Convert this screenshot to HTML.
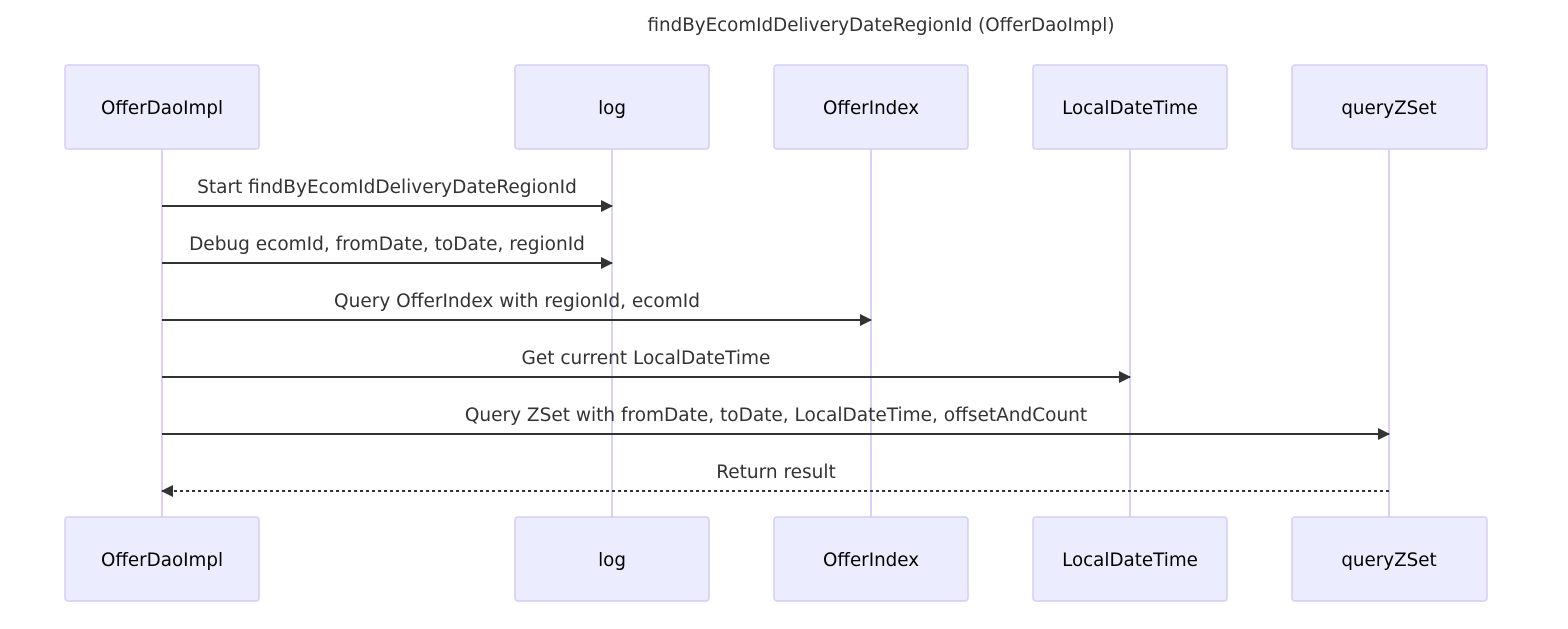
<!DOCTYPE html>
<html><head><meta charset="utf-8"><style>
html,body{margin:0;padding:0;background:#fff;}
svg text{font-family:"DejaVu Sans","Liberation Sans",sans-serif;fill:#333;}
</style></head><body>
<svg width="1568" height="624" viewBox="0 0 1568 624" xmlns="http://www.w3.org/2000/svg">
<defs>
<marker id="ah" markerWidth="12" markerHeight="12" refX="11" refY="6" orient="auto" markerUnits="userSpaceOnUse">
<path d="M0,0 L12,6 L0,12 z" fill="#333"/>
</marker>
</defs>
<text x="881" y="31" text-anchor="middle" font-size="18.3">findByEcomIdDeliveryDateRegionId (OfferDaoImpl)</text>
<g stroke="#DCD0F8" stroke-width="2">
<line x1="162" y1="149" x2="162" y2="517"/>
<line x1="612" y1="149" x2="612" y2="517"/>
<line x1="871" y1="149" x2="871" y2="517"/>
<line x1="1130" y1="149" x2="1130" y2="517"/>
<line x1="1389" y1="149" x2="1389" y2="517"/>
</g>
<g fill="#ECECFF" stroke="#D6CCF5" stroke-width="1.5">
<rect x="65" y="65" width="194" height="84" rx="3"/>
<rect x="515" y="65" width="194" height="84" rx="3"/>
<rect x="774" y="65" width="194" height="84" rx="3"/>
<rect x="1033" y="65" width="194" height="84" rx="3"/>
<rect x="1292" y="65" width="195" height="84" rx="3"/>
<rect x="65" y="517" width="194" height="84" rx="3"/>
<rect x="515" y="517" width="194" height="84" rx="3"/>
<rect x="774" y="517" width="194" height="84" rx="3"/>
<rect x="1033" y="517" width="194" height="84" rx="3"/>
<rect x="1292" y="517" width="195" height="84" rx="3"/>
</g>
<g font-size="18.3" text-anchor="middle">
<text x="162" y="114" style="fill:#000">OfferDaoImpl</text>
<text x="612" y="114" style="fill:#000">log</text>
<text x="871" y="114" style="fill:#000">OfferIndex</text>
<text x="1130" y="114" style="fill:#000">LocalDateTime</text>
<text x="1389" y="114" style="fill:#000">queryZSet</text>
<text x="162" y="566" style="fill:#000">OfferDaoImpl</text>
<text x="612" y="566" style="fill:#000">log</text>
<text x="871" y="566" style="fill:#000">OfferIndex</text>
<text x="1130" y="566" style="fill:#000">LocalDateTime</text>
<text x="1389" y="566" style="fill:#000">queryZSet</text>
</g>
<g stroke="#333" stroke-width="2">
<line x1="162" y1="206" x2="612" y2="206" marker-end="url(#ah)"/>
<line x1="162" y1="263" x2="612" y2="263" marker-end="url(#ah)"/>
<line x1="162" y1="320" x2="871" y2="320" marker-end="url(#ah)"/>
<line x1="162" y1="377" x2="1130" y2="377" marker-end="url(#ah)"/>
<line x1="162" y1="434" x2="1389" y2="434" marker-end="url(#ah)"/>
<line x1="1389" y1="491" x2="162" y2="491" stroke-dasharray="3,3" marker-end="url(#ah)"/>
</g>
<g font-size="18.5" text-anchor="middle">
<text x="387" y="193">Start findByEcomIdDeliveryDateRegionId</text>
<text x="387" y="250">Debug ecomId, fromDate, toDate, regionId</text>
<text x="517" y="307">Query OfferIndex with regionId, ecomId</text>
<text x="646" y="364">Get current LocalDateTime</text>
<text x="776" y="421">Query ZSet with fromDate, toDate, LocalDateTime, offsetAndCount</text>
<text x="776" y="478">Return result</text>
</g>
</svg>
</body></html>
